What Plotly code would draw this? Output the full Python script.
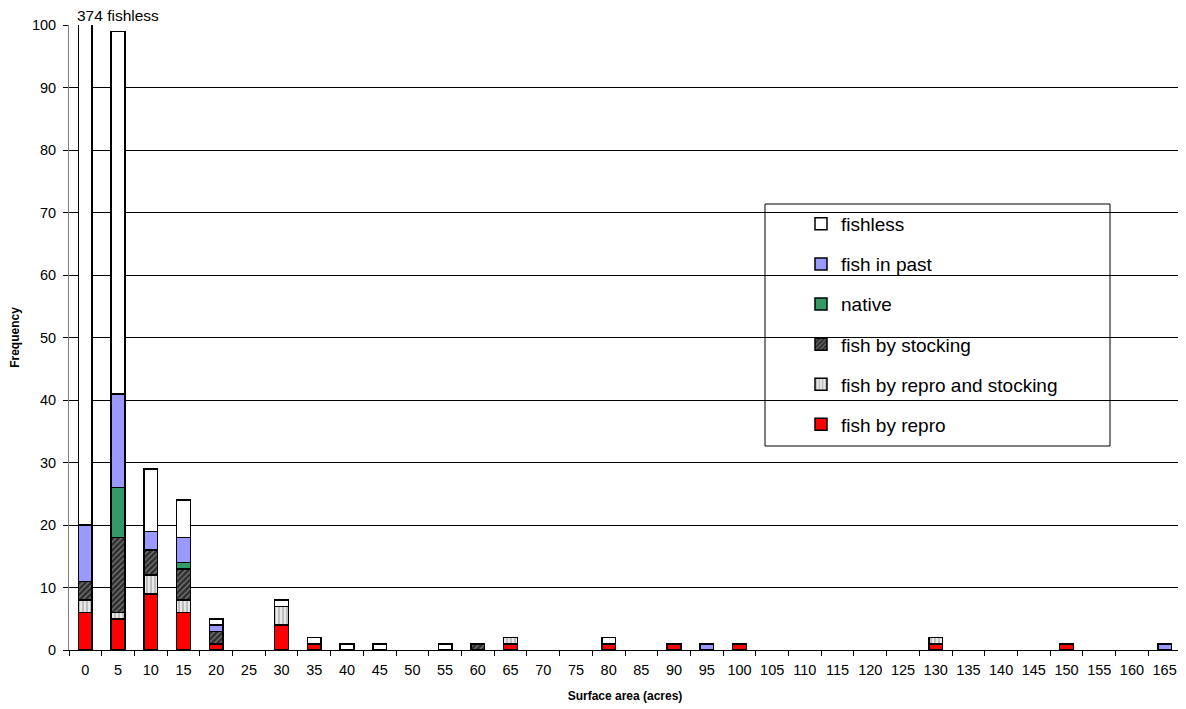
import plotly.graph_objects as go

# surface area classes (acres)
areas = [str(a) for a in range(0, 170, 5)]

# counts per class
fish_by_repro = [6, 5, 9, 6, 1, 0, 4, 1, 0, 0, 0, 0, 0, 1, 0, 0, 1, 0, 1, 0, 1,
                 0, 0, 0, 0, 0, 1, 0, 0, 0, 1, 0, 0, 0]
fish_by_repro_and_stocking = [2, 1, 3, 2, 0, 0, 3, 0, 0, 0, 0, 0, 0, 1, 0, 0, 0, 0, 0, 0, 0,
                              0, 0, 0, 0, 0, 1, 0, 0, 0, 0, 0, 0, 0]
fish_by_stocking = [3, 12, 4, 5, 2, 0, 0, 0, 0, 0, 0, 0, 1, 0, 0, 0, 0, 0, 0, 0, 0,
                    0, 0, 0, 0, 0, 0, 0, 0, 0, 0, 0, 0, 0]
native = [0, 8, 0, 1, 0, 0, 0, 0, 0, 0, 0, 0, 0, 0, 0, 0, 0, 0, 0, 0, 0,
          0, 0, 0, 0, 0, 0, 0, 0, 0, 0, 0, 0, 0]
fish_in_past = [9, 15, 3, 4, 1, 0, 0, 0, 0, 0, 0, 0, 0, 0, 0, 0, 0, 0, 0, 1, 0,
                0, 0, 0, 0, 0, 0, 0, 0, 0, 0, 0, 0, 1]
fishless = [374, 58, 10, 6, 1, 0, 1, 1, 1, 1, 0, 1, 0, 0, 0, 0, 1, 0, 0, 0, 0,
            0, 0, 0, 0, 0, 0, 0, 0, 0, 0, 0, 0, 0]

series = [
    ("fish by repro", fish_by_repro, dict(color="#FF0000")),
    ("fish by repro and stocking", fish_by_repro_and_stocking,
     dict(color="#E0E0E0", pattern=dict(shape="|", fgcolor="#808080", bgcolor="#E8E8E8", size=4, solidity=0.4))),
    ("fish by stocking", fish_by_stocking,
     dict(color="#333333", pattern=dict(shape="/", fgcolor="#C8C8C8", bgcolor="#2E2E2E", size=4, solidity=0.3))),
    ("native", native, dict(color="#339966")),
    ("fish in past", fish_in_past, dict(color="#9999FF")),
    ("fishless", fishless, dict(color="#FFFFFF")),
]

# page has an 8px body margin, so the figure is drawn 8px smaller and offset
W, H = 1178, 701
L, R, T, B = 61, 5, 17, 59
PX0, PX1, PY0, PY1 = 69, 1181, 25, 650  # plot area in page pixels


def px(x):
    return (x - PX0) / (PX1 - PX0)


def py(y):
    return (PY1 - y) / (PY1 - PY0)


fig = go.Figure()
n = len(series)
for i, (name, vals, mk) in enumerate(series):
    mk = dict(mk)
    mk["line"] = dict(color="#000000", width=1.5)
    fig.add_trace(go.Bar(x=areas, y=[v if v else None for v in vals], name=name,
                         marker=mk, legendgroup=name, legendrank=n - i))

fig.add_annotation(x=areas[0], y=100, yref="y", text="374 fishless", showarrow=False,
                   yanchor="bottom", xanchor="left", xshift=-10, yshift=-1,
                   font=dict(size=15.5, color="#000000"))

# legend frame
fig.add_shape(type="rect", xref="paper", yref="paper",
              x0=px(765), x1=px(1110), y0=py(446), y1=py(204),
              line=dict(color="#000000", width=1), fillcolor="#FFFFFF", layer="below")

fig.update_layout(
    barmode="stack",
    bargap=0.58,
    width=W, height=H,
    margin=dict(l=L, r=R, t=T, b=B, autoexpand=False),
    plot_bgcolor="#FFFFFF",
    paper_bgcolor="#FFFFFF",
    font=dict(family="Liberation Sans, Arial, sans-serif", color="#000000", size=14.5),
    legend=dict(
        x=px(801), y=py(205), xanchor="left", yanchor="top",
        traceorder="grouped", tracegroupgap=12.4,
        font=dict(size=19), bgcolor="rgba(0,0,0,0)", itemwidth=30,
    ),
    showlegend=True,
)
fig.update_yaxes(
    range=[0, 100], dtick=10, showgrid=True, gridcolor="#000000", gridwidth=1,
    showline=True, linecolor="#808080", ticks="outside", ticklen=5, tickcolor="#000000",
    ticklabelstandoff=4, automargin=False,
    title=dict(text="<b>Frequency</b>", font=dict(size=12), standoff=10),
    zeroline=False,
)
fig.update_xaxes(
    type="category", tickson="boundaries", ticks="outside", ticklen=5, tickcolor="#000000",
    ticklabelstandoff=7, tickangle=0, automargin=False,
    showline=True, linecolor="#000000", showgrid=False,
    title=dict(text="<b>Surface area (acres)</b>", font=dict(size=12), standoff=14),
)

fig.write_html("out.html")
